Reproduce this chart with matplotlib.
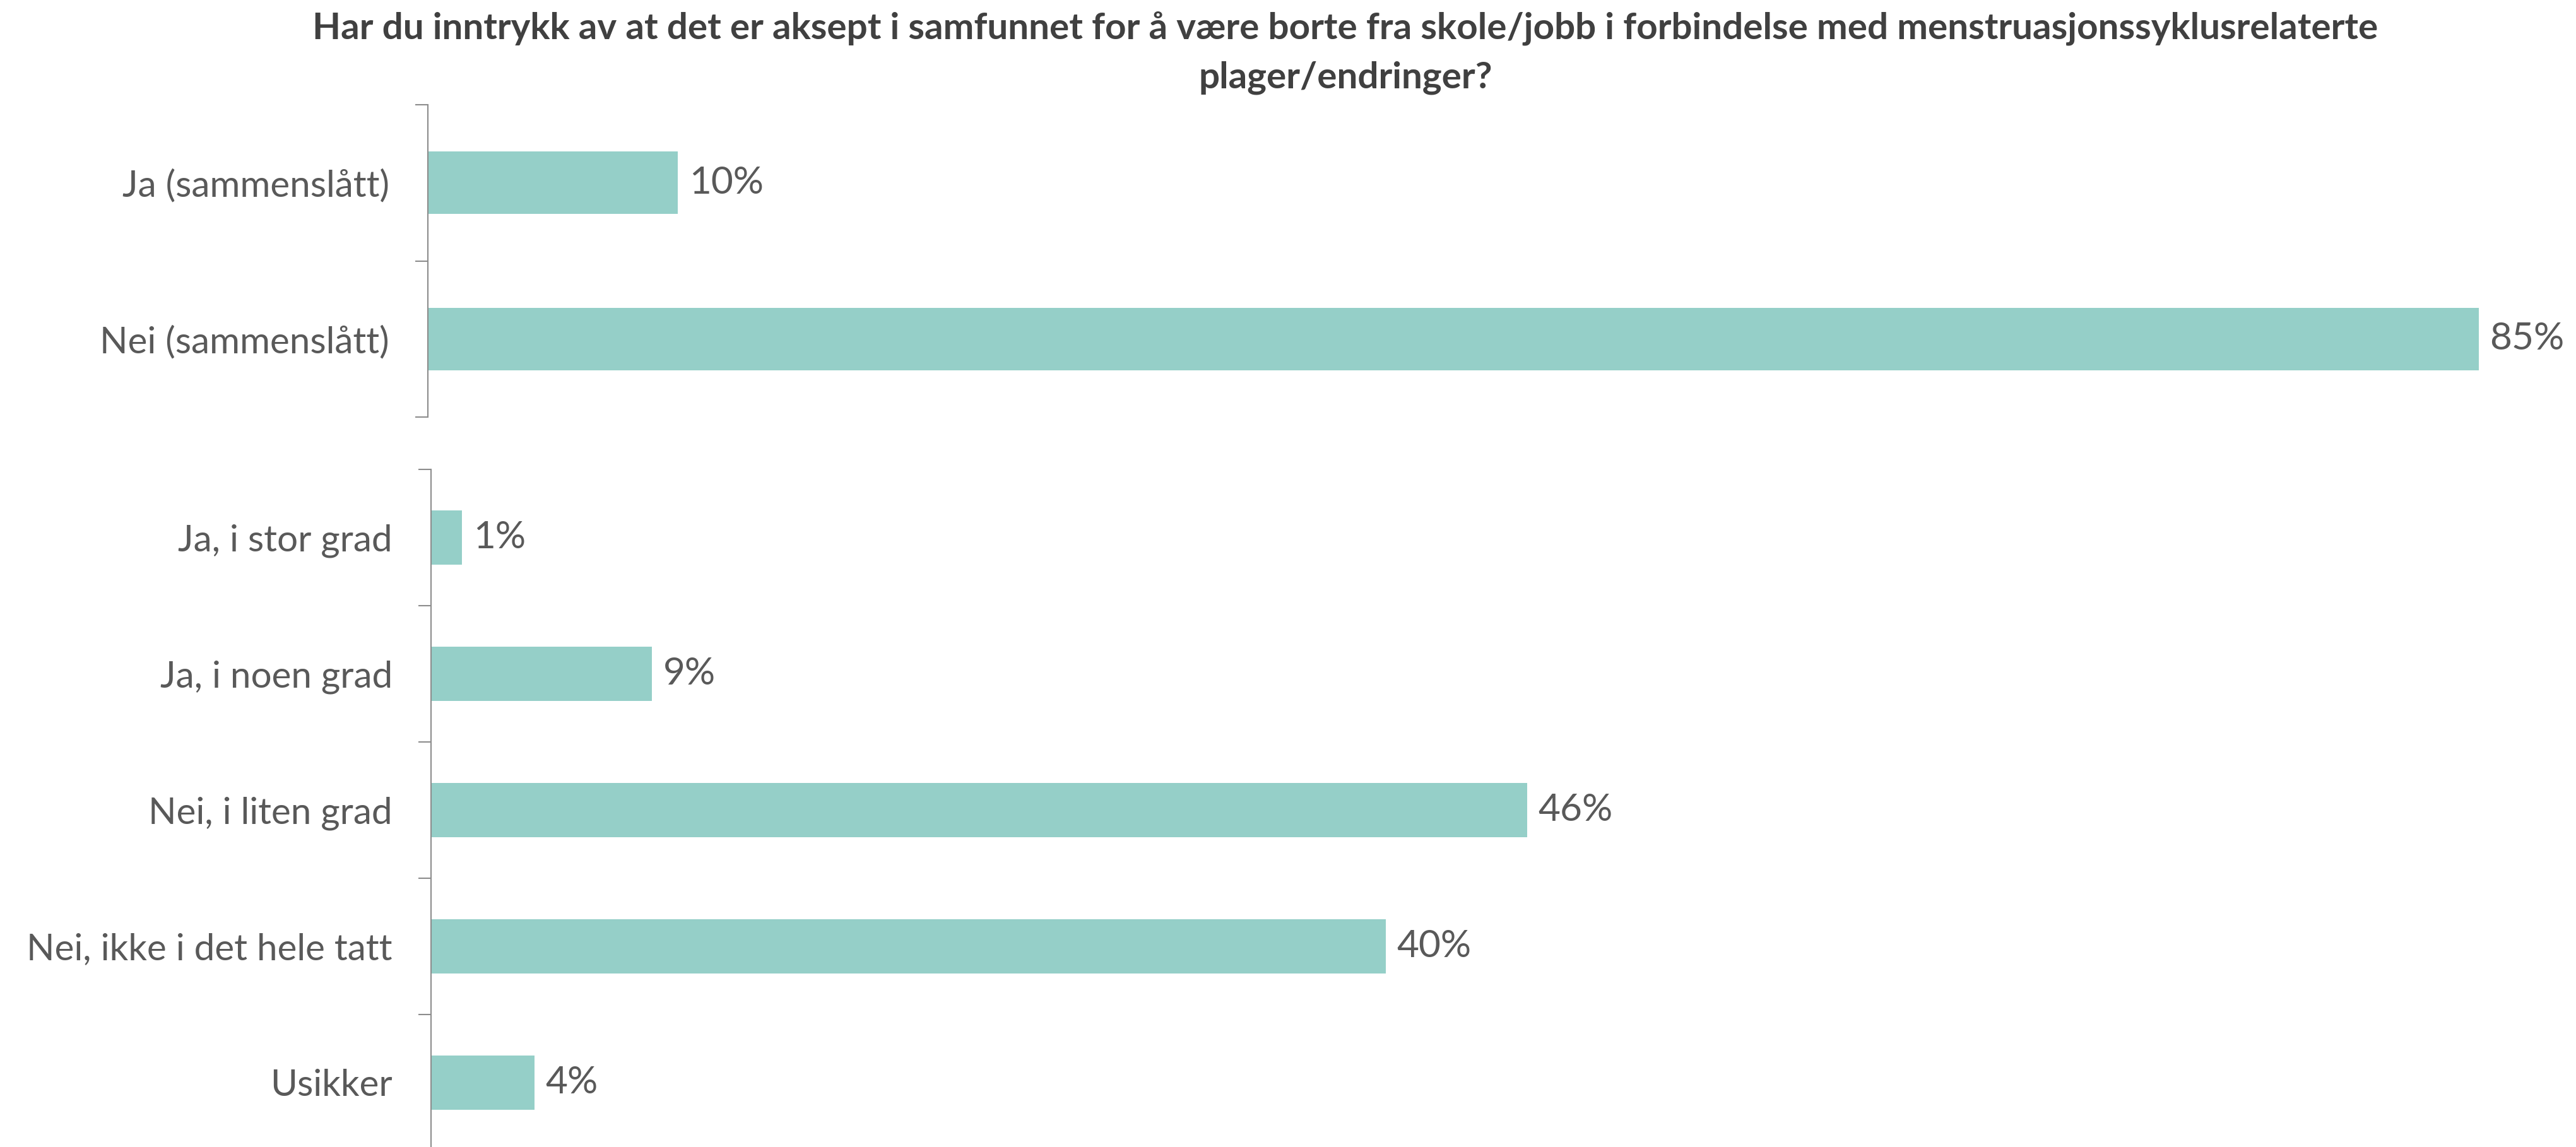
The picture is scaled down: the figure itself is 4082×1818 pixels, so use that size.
import matplotlib.pyplot as plt

# survey answers, shares in percent
top_labels = ["Ja (sammenslått)", "Nei (sammenslått)"]
top_values = [10.4, 85.3]

bottom_labels = ["Ja, i stor grad", "Ja, i noen grad", "Nei, i liten grad",
                 "Nei, ikke i det hele tatt", "Usikker"]
bottom_values = [1.3, 9.2, 45.6, 39.7, 4.3]

title_lines = [
    "Har du inntrykk av at det er aksept i samfunnet for å være borte fra skole/jobb "
    "i forbindelse med menstruasjonssyklusrelaterte",
    "plager/endringer?",
]

bar_color = "#95cfc8"
text_color = "#595959"
title_color = "#404040"
axis_color = "#8c8c8c"

plt.rcParams["font.family"] = ["Lato", "DejaVu Sans"]

fig = plt.figure(figsize=(40.82, 18.18), dpi=100)


def draw_panel(ax, labels, values, xmax):
    n = len(labels)
    ypos = list(range(n))
    ax.barh(ypos, values, height=0.4, color=bar_color)
    ax.set_ylim(n - 0.5, -0.5)
    ax.set_xlim(0, xmax)
    ax.set_yticks(ypos)
    ax.set_yticklabels(labels)
    ax.set_yticks([i - 0.5 for i in range(n + 1)], minor=True)
    ax.tick_params(axis="y", which="major", length=0, pad=44, labelsize=42,
                   labelcolor=text_color)
    ax.tick_params(axis="y", which="minor", length=14.5, width=1.5, color=axis_color)
    ax.set_xticks([])
    for side in ["top", "right", "bottom"]:
        ax.spines[side].set_visible(False)
    ax.spines["left"].set_color(axis_color)
    ax.spines["left"].set_linewidth(1.5)
    for y, v in zip(ypos, values):
        ax.annotate(f"{v:.0f}%", xy=(v, y), xytext=(12.5, 0), textcoords="offset points",
                    va="center", ha="left", fontsize=43.5, color=text_color)


ax_top = fig.add_axes([0.1661, 0.6364, 0.8138, 0.2723])
draw_panel(ax_top, top_labels, top_values, 87.19)

ax_bottom = fig.add_axes([0.1673, -0.0033, 0.8126, 0.5941])
draw_panel(ax_bottom, bottom_labels, bottom_values, 87.06)

fig.text(0.5223, 0.9659, title_lines[0], ha="center", va="baseline",
         fontsize=42, fontweight="bold", color=title_color)
fig.text(0.5223, 0.9230, title_lines[1], ha="center", va="baseline",
         fontsize=42, fontweight="bold", color=title_color)

fig.savefig("out.png", dpi=100, facecolor="white")
plt.close(fig)
